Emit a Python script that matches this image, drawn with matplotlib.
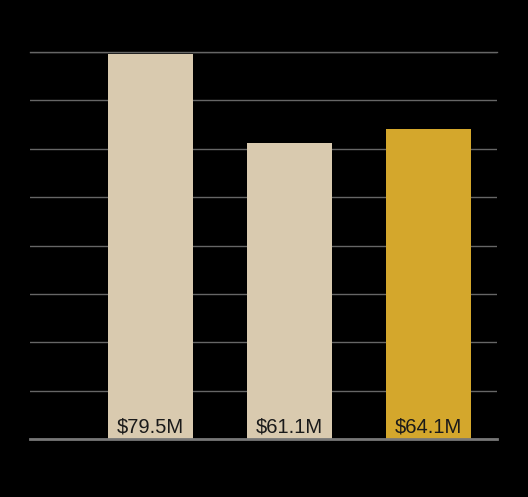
import matplotlib
matplotlib.use("Agg")
import matplotlib.pyplot as plt

categories = ["A", "B", "C"]
values = [79.5, 61.1, 64.1]
labels = ["$79.5M", "$61.1M", "$64.1M"]
colors = ["#D9CAAF", "#D9CAAF", "#D4A72C"]
yticks = [0, 10, 20, 30, 40, 50, 60, 70, 80]

plt.rcParams['font.family'] = ['Liberation Sans', 'DejaVu Sans']
fig = plt.figure(figsize=(5.28, 4.97), dpi=100, facecolor="black")
W, H = 528, 497
ax = fig.add_axes([30 / W, 1 - 439 / H, 467 / W, 387 / H])
ax.set_facecolor("black")
x = range(len(categories))
ax.bar(x, values, width=0.61, color=colors, zorder=3)
ax.set_xlim(-0.867, 2.493)
ax.set_ylim(0, 80)
ax.set_yticks(yticks)
ax.grid(axis="y", color="#666666", linewidth=1, zorder=1)
ax.tick_params(left=False, bottom=False, labelleft=False, labelbottom=False)
for s in ["top", "right", "left"]:
    ax.spines[s].set_visible(False)
ax.spines["bottom"].set_color("#777777")
ax.spines["bottom"].set_linewidth(2)
ax.spines["bottom"].set_zorder(4)
ax.axhline(80, color="#666666", linewidth=1, zorder=1, clip_on=False)
for xi, lab in zip(x, labels):
    ax.annotate(lab, (xi, 0), xytext=(0, 5), textcoords="offset points",
                ha="center", va="baseline", fontsize=14.5, color="#1a1a1a", zorder=5)
fig.savefig("out.png", dpi=100, facecolor="black")
